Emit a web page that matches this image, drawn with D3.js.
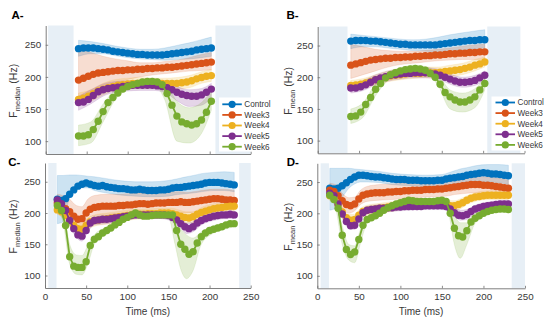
<!DOCTYPE html>
<html>
<head>
<meta charset="utf-8">
<script src="https://cdn.jsdelivr.net/npm/d3@7"></script>
<style>
  body { margin: 0; background: #fff; }
  svg { display: block; }
  text { font-family: "Liberation Sans", Arial, sans-serif; }
</style>
</head>
<body>
<svg id="chart" width="550" height="320"></svg>
<script>
// ---- data ----
const seriesNames = ['Control', 'Week3', 'Week4', 'Week5', 'Week6'];

const timeAB = [40, 46, 52, 58, 64, 70, 76, 82, 88, 94, 100, 106, 112, 118, 124, 130, 136, 142, 148, 154, 160, 166, 172, 178, 184, 190, 196, 202];
const timeCD = [15, 20, 25, 30, 35, 40, 45, 50, 55, 60, 65, 70, 75, 80, 85, 90, 95, 100, 105, 110, 115, 120, 125, 130, 135, 140, 145, 150, 155,
                160, 165, 170, 175, 180, 185, 190, 195, 200, 205, 210, 215, 220, 225, 230];
const bandTimeAB = [40, 55, 70, 85, 100, 115, 130, 145, 160, 175, 190, 202];
const bandTimeCD = [15, 22, 30, 38, 45, 52, 60, 75, 90, 110, 130, 150, 158, 165, 172, 180, 190, 205, 218, 230];

const xTicks = [0, 50, 100, 150, 200, 250];
const yTicks = [100, 150, 200, 250];

// shaded time windows (ms)
const shadeA = [[3, 34], [207, 250]];
const shadeB = [[2, 36], [205, 245]];
const shadeC = [[4, 14], [236, 250]];
const shadeD = [[4, 14], [234, 250]];

// A: F median, smoothed
const aMean = [
  [244, 245, 245, 245, 244, 243, 242, 240, 239, 238, 237, 236, 235, 235, 234, 234, 234, 234, 235, 236, 237, 238, 239, 240, 242, 243, 244, 245],
  [195, 198, 201, 204, 206, 207, 208, 209, 210, 210, 211, 211, 212, 212, 213, 213, 214, 214, 215, 215, 216, 217, 218, 219, 220, 221, 222, 223],
  [165, 167, 170, 174, 178, 181, 183, 185, 187, 188, 189, 190, 190, 190, 190, 190, 190, 190, 190, 190, 190, 191, 192, 194, 197, 199, 201, 202],
  [160, 161, 165, 171, 177, 180, 182, 183, 184, 185, 186, 187, 187, 187, 187, 187, 186, 185, 183, 180, 176, 173, 171, 170, 170, 172, 176, 181],
  [108, 108, 110, 118, 131, 146, 160, 168, 175, 181, 185, 188, 190, 192, 193, 193, 192, 188, 174, 156, 139, 130, 127, 125, 127, 133, 145, 162]
];
const aLow = [
  [232, 236, 236, 233, 230, 228, 227, 226, 227, 228, 230, 232],
  [170, 175, 183, 190, 196, 200, 203, 205, 207, 209, 210, 211],
  [156, 162, 172, 179, 181, 182, 182, 182, 181, 183, 190, 193],
  [148, 158, 170, 176, 178, 179, 179, 176, 163, 154, 156, 168],
  [93, 97, 130, 165, 180, 186, 188, 165, 100, 97, 112, 148]
];
const aHigh = [
  [257, 255, 252, 248, 245, 243, 243, 245, 249, 253, 258, 262],
  [242, 238, 232, 228, 225, 222, 222, 224, 226, 230, 235, 238],
  [175, 180, 190, 196, 198, 199, 198, 198, 199, 202, 208, 212],
  [170, 180, 189, 193, 194, 195, 195, 193, 185, 180, 182, 190],
  [125, 130, 158, 180, 190, 196, 198, 192, 162, 152, 160, 178]
];

// B: F mean, smoothed
const bMean = [
  [257, 258, 258, 258, 257, 257, 256, 255, 254, 253, 252, 252, 251, 251, 251, 251, 251, 251, 252, 253, 254, 255, 256, 257, 258, 258, 259, 259],
  [219, 221, 223, 225, 227, 228, 229, 230, 230, 231, 231, 232, 232, 233, 233, 234, 234, 235, 235, 236, 237, 237, 238, 238, 239, 239, 240, 240],
  [187, 188, 189, 191, 193, 196, 198, 200, 202, 203, 204, 205, 206, 206, 206, 207, 207, 207, 208, 209, 210, 211, 212, 214, 216, 219, 221, 224],
  [183, 183, 185, 188, 192, 196, 199, 201, 203, 204, 205, 206, 206, 207, 207, 207, 206, 205, 203, 200, 197, 194, 192, 192, 193, 195, 199, 203],
  [138, 139, 145, 157, 168, 181, 190, 199, 204, 207, 210, 212, 213, 214, 213, 211, 206, 200, 189, 176, 169, 164, 161, 161, 164, 169, 180, 190]
];
const bLow = [
  [245, 248, 248, 246, 244, 242, 241, 240, 242, 243, 245, 246],
  [198, 204, 210, 216, 220, 222, 224, 226, 227, 228, 228, 228],
  [180, 183, 188, 193, 196, 198, 199, 198, 201, 204, 210, 216],
  [175, 179, 188, 194, 197, 199, 199, 197, 189, 184, 187, 195],
  [127, 137, 171, 195, 205, 208, 205, 188, 150, 145, 152, 180]
];
const bHigh = [
  [268, 266, 264, 262, 260, 259, 260, 263, 267, 270, 273, 275],
  [252, 248, 244, 242, 241, 241, 242, 244, 246, 249, 251, 252],
  [195, 198, 204, 210, 213, 215, 216, 216, 219, 222, 228, 232],
  [190, 195, 204, 210, 213, 215, 215, 213, 205, 200, 203, 210],
  [150, 160, 190, 208, 215, 219, 217, 206, 180, 175, 182, 198]
];

// C: F median, raw
const cMean = [
  [222, 220, 223, 230, 237, 243, 246, 248, 246, 244, 243, 244, 242, 241, 240, 239, 239, 238, 237, 237, 238, 237, 236, 236, 236, 237, 237, 238, 240,
   241, 241, 242, 243, 244, 245, 246, 248, 249, 249, 249, 248, 247, 246, 245],
  [216, 212, 207, 202, 195, 190, 191, 200, 206, 209, 210, 211, 211, 211, 211, 212, 212, 213, 213, 214, 215, 215, 214, 215, 216, 216, 216, 217, 217,
   217, 218, 217, 217, 218, 219, 220, 221, 222, 223, 223, 222, 221, 221, 220],
  [205, 202, 196, 188, 180, 175, 174, 180, 186, 188, 189, 190, 191, 192, 193, 194, 195, 196, 197, 198, 198, 198, 199, 199, 199, 200, 200, 200, 199,
   197, 195, 193, 192, 194, 198, 201, 203, 205, 207, 208, 209, 210, 211, 211],
  [221, 215, 204, 188, 175, 165, 163, 172, 184, 188, 189, 190, 190, 191, 192, 193, 194, 195, 196, 197, 197, 197, 197, 197, 197, 197, 197, 196, 193,
   189, 183, 178, 175, 178, 184, 188, 191, 193, 195, 196, 197, 197, 198, 197],
  [212, 204, 180, 130, 115, 113, 113, 122, 148, 158, 162, 168, 172, 176, 181, 185, 190, 193, 197, 200, 197, 195, 195, 196, 197, 197, 197, 197, 197,
   172, 150, 142, 134, 138, 152, 162, 168, 172, 174, 176, 178, 181, 183, 183]
];
const cLow = [
  [183, 186, 225, 237, 240, 240, 236, 232, 229, 227, 226, 227, 229, 230, 231, 232, 234, 236, 236, 234],
  [204, 198, 188, 178, 178, 190, 196, 198, 199, 200, 201, 202, 202, 201, 200, 201, 203, 206, 206, 205],
  [198, 192, 179, 168, 165, 174, 179, 182, 185, 190, 191, 192, 190, 186, 184, 184, 193, 199, 201, 203],
  [214, 206, 180, 161, 155, 170, 181, 183, 186, 191, 192, 189, 183, 176, 167, 170, 181, 188, 191, 191],
  [205, 185, 118, 102, 101, 118, 150, 166, 180, 195, 191, 192, 150, 110, 95, 108, 150, 168, 174, 178]
];
const cHigh = [
  [260, 260, 261, 261, 260, 259, 258, 255, 252, 250, 250, 252, 254, 256, 258, 260, 263, 265, 266, 265],
  [230, 228, 222, 212, 210, 222, 228, 230, 230, 232, 232, 234, 234, 234, 233, 234, 236, 238, 238, 236],
  [212, 208, 197, 186, 183, 192, 197, 200, 203, 206, 207, 208, 207, 204, 202, 202, 209, 215, 217, 219],
  [226, 220, 196, 178, 171, 186, 195, 197, 199, 202, 202, 201, 197, 192, 184, 186, 195, 200, 203, 203],
  [216, 206, 150, 133, 132, 148, 165, 178, 190, 205, 201, 203, 195, 175, 165, 160, 170, 180, 184, 187]
];

// D: F mean, raw
const dMean = [
  [240, 239, 240, 244, 249, 254, 258, 261, 261, 260, 259, 258, 258, 257, 256, 255, 254, 254, 254, 253, 253, 253, 252, 252, 252, 252, 253, 253, 255,
   256, 257, 258, 259, 261, 262, 263, 264, 265, 264, 263, 263, 262, 261, 260],
  [237, 235, 228, 220, 214, 212, 215, 223, 229, 231, 232, 233, 233, 233, 234, 234, 235, 235, 236, 236, 237, 237, 237, 238, 238, 238, 239, 239, 240,
   241, 242, 243, 244, 245, 246, 246, 246, 245, 245, 244, 243, 242, 241, 240],
  [228, 224, 214, 202, 193, 189, 190, 197, 203, 205, 206, 207, 208, 209, 210, 211, 212, 213, 214, 215, 215, 215, 215, 215, 215, 215, 215, 215, 214,
   212, 212, 214, 217, 221, 224, 226, 227, 228, 229, 229, 229, 229, 229, 229],
  [232, 228, 215, 199, 187, 180, 181, 191, 201, 205, 206, 207, 208, 208, 209, 209, 210, 210, 211, 211, 211, 211, 211, 212, 212, 212, 212, 212, 211,
   207, 201, 197, 196, 198, 203, 207, 209, 211, 212, 213, 214, 215, 215, 215],
  [229, 222, 208, 165, 142, 134, 138, 158, 181, 190, 193, 196, 200, 205, 209, 212, 215, 217, 219, 221, 220, 219, 219, 219, 219, 219, 220, 221, 219,
   200, 176, 164, 162, 172, 186, 192, 196, 200, 203, 205, 206, 207, 207, 206]
];
const dLow = [
  [205, 208, 225, 240, 247, 250, 250, 249, 246, 244, 243, 244, 245, 246, 246, 247, 249, 250, 249, 246],
  [226, 222, 208, 200, 204, 214, 219, 221, 222, 224, 226, 227, 228, 230, 231, 232, 233, 232, 230, 227],
  [220, 215, 194, 182, 182, 192, 197, 200, 203, 208, 208, 208, 205, 204, 207, 214, 219, 222, 222, 222],
  [226, 215, 192, 176, 174, 189, 199, 202, 203, 205, 206, 206, 203, 196, 189, 190, 200, 206, 208, 209],
  [224, 208, 150, 125, 121, 152, 184, 195, 208, 217, 215, 217, 200, 150, 128, 150, 184, 198, 202, 201]
];
const dHigh = [
  [272, 272, 272, 272, 271, 270, 269, 267, 264, 262, 261, 262, 265, 268, 271, 273, 276, 278, 278, 277],
  [248, 246, 232, 225, 226, 237, 243, 246, 247, 248, 250, 252, 253, 255, 256, 258, 259, 258, 256, 253],
  [236, 231, 210, 198, 198, 208, 213, 216, 219, 222, 222, 222, 221, 220, 223, 228, 233, 236, 236, 236],
  [238, 230, 206, 190, 188, 203, 211, 214, 215, 217, 217, 218, 217, 210, 205, 206, 213, 218, 220, 221],
  [234, 226, 180, 150, 148, 175, 195, 205, 216, 225, 223, 225, 222, 198, 185, 185, 200, 208, 212, 211]
];

// ---- style ----
const COLORS = ['#0072BD', '#D95319', '#EDB120', '#7E2F8E', '#77AC30'];
const SHADE = '#e7eff6';
const AXIS = '#707070';
const TEXT = '#383838';
const FONT_TICK = 9.8;

const panels = [
  { tag: 'A-', sub: 'median', times: timeAB, bandTimes: bandTimeAB, mean: aMean, low: aLow, high: aHigh, shade: shadeA,
    frame: { l: 45.7, r: 250.7, t: 25.5, b: 154 }, tagAt: [11.5, 18.5], ylabX: 17, xLabels: false,
    legend: { x: 222.3, y: 104.3, box: [219, 97.5, 55, 54] } },
  { tag: 'B-', sub: 'mean', times: timeAB, bandTimes: bandTimeAB, mean: bMean, low: bLow, high: bHigh, shade: shadeB,
    frame: { l: 317.7, r: 524.5, t: 26.5, b: 153.3 }, tagAt: [286.5, 18.5], ylabX: 291.5, xLabels: false,
    legend: { x: 495.5, y: 102.5, box: [491.5, 96.5, 51, 54] } },
  { tag: 'C-', sub: 'median', times: timeCD, bandTimes: bandTimeCD, mean: cMean, low: cLow, high: cHigh, shade: shadeC,
    frame: { l: 45, r: 250.7, t: 163, b: 288 }, tagAt: [8.3, 166], ylabX: 17, xLabels: true, legend: null },
  { tag: 'D-', sub: 'mean', times: timeCD, bandTimes: bandTimeCD, mean: dMean, low: dLow, high: dHigh, shade: shadeD,
    frame: { l: 317.3, r: 525, t: 163.3, b: 288.3 }, tagAt: [286.7, 166], ylabX: 291.5, xLabels: true, legend: null }
];

const root = d3.select('#chart');

panels.forEach(drawPanel);

function drawPanel(p) {
    const f = p.frame;
    const x = d3.scaleLinear().domain([0, 250]).range([f.l, f.r]);
    const y = d3.scaleLinear().domain([80, 280]).range([f.b, f.t]);
    const g = root.append('g');

    // shaded windows
    p.shade.forEach(s => {
        g.append('rect')
            .attr('x', x(s[0]))
            .attr('y', y(280))
            .attr('width', x(s[1]) - x(s[0]))
            .attr('height', y(80) - y(280))
            .attr('fill', SHADE);
    });

    // variability bands
    seriesNames.forEach((name, i) => {
        const rows = p.bandTimes.map((t, k) => ({ t: t, lo: p.low[i][k], hi: p.high[i][k] }));
        const area = d3.area()
            .x(d => x(d.t))
            .y0(d => y(d.lo))
            .y1(d => y(d.hi))
            .curve(d3.curveMonotoneX);
        g.append('path')
            .datum(rows)
            .attr('d', area)
            .attr('fill', COLORS[i])
            .attr('fill-opacity', 0.2)
            .attr('stroke', COLORS[i])
            .attr('stroke-opacity', 0.18)
            .attr('stroke-width', 0.7);
    });

    // axes
    const yAxis = d3.axisLeft(y).tickValues(yTicks).tickSizeInner(-2.5).tickSizeOuter(0).tickPadding(4.5);
    const xAxis = d3.axisBottom(x).tickValues(xTicks).tickSizeInner(-2.5).tickSizeOuter(0).tickPadding(5);
    if (!p.xLabels) xAxis.tickFormat('');

    const ya = g.append('g').attr('transform', `translate(${f.l},0)`).call(yAxis);
    const xa = g.append('g').attr('transform', `translate(0,${f.b})`).call(xAxis);
    [ya, xa].forEach(a => {
        a.select('.domain').attr('stroke', AXIS).attr('stroke-width', 0.9);
        a.selectAll('.tick line').attr('stroke', AXIS).attr('stroke-width', 0.8);
        a.selectAll('.tick text')
            .attr('fill', TEXT)
            .attr('font-size', FONT_TICK)
            .attr('font-family', '"Liberation Sans", Arial, sans-serif');
    });

    // series lines + markers
    seriesNames.forEach((name, i) => {
        const pts = p.times.map((t, k) => ({ t: t, v: p.mean[i][k] }));
        g.append('path')
            .datum(pts)
            .attr('d', d3.line().x(d => x(d.t)).y(d => y(d.v)))
            .attr('fill', 'none')
            .attr('stroke', COLORS[i])
            .attr('stroke-width', 1.8);
        g.append('g')
            .selectAll('circle')
            .data(pts)
            .join('circle')
            .attr('cx', d => x(d.t))
            .attr('cy', d => y(d.v))
            .attr('r', 3.7)
            .attr('fill', COLORS[i]);
    });

    // y label
    const cy = (f.t + f.b) / 2 + 1;
    const yl = g.append('text')
        .attr('transform', `translate(${p.ylabX},${cy}) rotate(-90)`)
        .attr('text-anchor', 'middle')
        .attr('fill', TEXT)
        .attr('font-size', 10.5);
    yl.append('tspan').text('F');
    yl.append('tspan').attr('font-size', 7.5).attr('dy', 3).text(p.sub);
    yl.append('tspan').attr('dy', -3).text('\u00a0(Hz)');

    // x label
    if (p.xLabels) {
        g.append('text')
            .attr('x', (f.l + f.r) / 2)
            .attr('y', 314.5)
            .attr('text-anchor', 'middle')
            .attr('fill', TEXT)
            .attr('font-size', 10)
            .text('Time (ms)');
    }

    // panel tag
    g.append('text')
        .attr('x', p.tagAt[0])
        .attr('y', p.tagAt[1])
        .attr('font-size', 11.5)
        .attr('font-weight', 'bold')
        .attr('fill', '#000')
        .text(p.tag);

    if (p.legend) drawLegend(g, p.legend);
}

function drawLegend(g, lg) {
    const ROW = 10.6;
    g.append('rect')
        .attr('x', lg.box[0]).attr('y', lg.box[1])
        .attr('width', lg.box[2]).attr('height', lg.box[3])
        .attr('fill', '#fff');
    seriesNames.forEach((name, i) => {
        const yy = lg.y + i * ROW;
        g.append('line')
            .attr('x1', lg.x).attr('x2', lg.x + 19.5)
            .attr('y1', yy).attr('y2', yy)
            .attr('stroke', COLORS[i])
            .attr('stroke-width', 1.8);
        g.append('circle')
            .attr('cx', lg.x + 9.8).attr('cy', yy)
            .attr('r', 3.6)
            .attr('fill', COLORS[i]);
        g.append('text')
            .attr('x', lg.x + 22)
            .attr('y', yy)
            .attr('dy', '0.35em')
            .attr('font-size', 8.2)
            .attr('fill', TEXT)
            .text(name);
    });
}
</script>
</body>
</html>
